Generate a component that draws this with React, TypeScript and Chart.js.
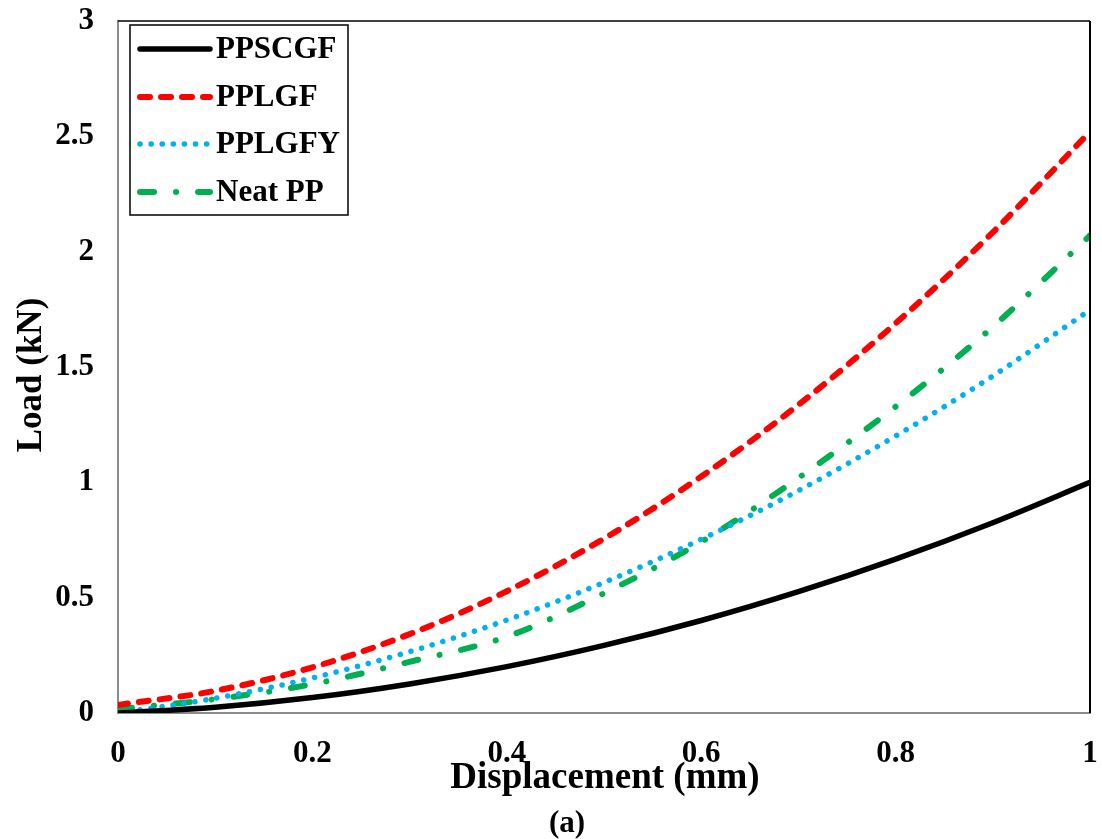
import React, { useEffect, useRef } from "react";
import { Chart, registerables } from "chart.js";

Chart.register(...registerables);

const FONT = '"Liberation Serif", "Times New Roman", serif';

const displacement = [0, 0.1, 0.2, 0.3, 0.4, 0.5, 0.6, 0.7, 0.8, 0.9, 1.0];
const ppscgf = [0, 0.025, 0.067, 0.126, 0.201, 0.293, 0.401, 0.526, 0.667, 0.825, 1.0];
const pplgf = [0.035, 0.096, 0.198, 0.342, 0.528, 0.756, 1.025, 1.336, 1.689, 2.084, 2.52];
const pplgfy = [0, 0.064, 0.152, 0.266, 0.403, 0.566, 0.753, 0.964, 1.201, 1.461, 1.747];
const neatPP = [0.017, 0.06, 0.125, 0.222, 0.331, 0.519, 0.742, 1.019, 1.328, 1.674, 2.07];

const seriesNames = ["PPSCGF", "PPLGF", "PPLGFY", "Neat PP"];
const xTickValues = [0, 0.2, 0.4, 0.6, 0.8, 1];
const yTickValues = [0, 0.5, 1, 1.5, 2, 2.5, 3];

const xTitle = "Displacement (mm)";
const yTitle = "Load (kN)";
const caption = "(a)";

const toPoints = (ys: number[]) => displacement.map((x, i) => ({ x, y: ys[i] }));

const legendPlugin = {
  id: "boxLegend",
  afterDraw(chart: any) {
    const ctx = chart.ctx as CanvasRenderingContext2D;
    const area = chart.chartArea;
    ctx.save();
    // frame top & right
    ctx.strokeStyle = "#000";
    ctx.lineWidth = 1.5;
    ctx.beginPath();
    ctx.moveTo(area.left, area.top);
    ctx.lineTo(area.right, area.top);
    ctx.stroke();
    ctx.lineWidth = 2;
    ctx.beginPath();
    ctx.moveTo(area.right, area.top);
    ctx.lineTo(area.right, area.bottom);
    ctx.stroke();

    // legend box
    const bx = area.left + 12;
    const by = area.top + 4;
    const bw = 218;
    const bh = 190;
    ctx.fillStyle = "#fff";
    ctx.fillRect(bx, by, bw, bh);
    ctx.lineWidth = 1.5;
    ctx.strokeStyle = "#000";
    ctx.setLineDash([]);
    ctx.strokeRect(bx, by, bw, bh);

    const rowYs = [24, 72, 119, 167];
    chart.data.datasets.forEach((ds: any, i: number) => {
      const y = by + rowYs[i];
      ctx.save();
      ctx.strokeStyle = ds.borderColor;
      ctx.lineWidth = ds.borderWidth;
      ctx.lineCap = ds.borderCapStyle || "butt";
      ctx.setLineDash(ds.borderDash || []);
      ctx.beginPath();
      ctx.moveTo(bx + 10, y);
      ctx.lineTo(bx + 80, y);
      ctx.stroke();
      ctx.restore();
      ctx.fillStyle = "#000";
      ctx.font = `bold 31px ${FONT}`;
      ctx.textAlign = "left";
      ctx.textBaseline = "middle";
      ctx.fillText(ds.label, bx + 86, y + 1);
    });

    // axis titles
    ctx.fillStyle = "#000";
    ctx.textAlign = "center";
    ctx.textBaseline = "middle";
    ctx.font = `bold 37px ${FONT}`;
    ctx.fillText(xTitle, 605, 778);
    ctx.font = `bold 31px ${FONT}`;
    ctx.fillText(caption, 567, 824);
    ctx.save();
    ctx.translate(32, 375);
    ctx.rotate(-Math.PI / 2);
    ctx.font = `bold 35px ${FONT}`;
    ctx.fillText(yTitle, 0, 0);
    ctx.restore();
    ctx.restore();
  },
};

export default function App() {
  const ref = useRef<HTMLCanvasElement | null>(null);

  useEffect(() => {
    document.body.style.margin = "0";
    const canvas = ref.current;
    if (!canvas) return;
    const chart = new Chart(canvas, {
      type: "line",
      data: {
        datasets: [
          {
            label: seriesNames[0],
            data: toPoints(ppscgf),
            borderColor: "#000000",
            borderWidth: 5.5,
            borderCapStyle: "round",
            pointRadius: 0,
            cubicInterpolationMode: "monotone",
          },
          {
            label: seriesNames[1],
            data: toPoints(pplgf),
            borderColor: "#ff0000",
            borderWidth: 6,
            borderDash: [10, 11],
            borderCapStyle: "round",
            pointRadius: 0,
            cubicInterpolationMode: "monotone",
          },
          {
            label: seriesNames[2],
            data: toPoints(pplgfy),
            borderColor: "#00b0f0",
            borderWidth: 5.5,
            borderDash: [0.1, 11],
            borderCapStyle: "round",
            pointRadius: 0,
            cubicInterpolationMode: "monotone",
          },
          {
            label: seriesNames[3],
            data: toPoints(neatPP),
            borderColor: "#00b050",
            borderWidth: 6,
            borderDash: [14, 22, 0.1, 22],
            borderCapStyle: "round",
            pointRadius: 0,
            cubicInterpolationMode: "monotone",
          },
        ] as any,
      },
      options: {
        animation: false,
        responsive: false,
        devicePixelRatio: 1,
        layout: { padding: { left: 0, right: 12, top: 21, bottom: 0 } },
        plugins: {
          legend: { display: false },
          tooltip: { enabled: false },
          title: { display: false },
        },
        scales: {
          x: {
            type: "linear",
            min: 0,
            max: 1,
            afterBuildTicks: (axis: any) => {
              axis.ticks = xTickValues.map((v) => ({ value: v }));
            },
            afterFit: (axis: any) => {
              axis.height = 126;
              axis.paddingLeft = 0;
              axis.paddingRight = 0;
              axis.paddingTop = 0;
              axis.paddingBottom = 0;
            },
            grid: { display: false, drawTicks: false },
            border: { display: true, color: "#8c8c8c", width: 2 },
            ticks: {
              color: "#000",
              font: { family: FONT, size: 31, weight: "bold" },
              padding: 22,
              maxRotation: 0,
              callback: (v: any) => String(v),
            },
          },
          y: {
            type: "linear",
            min: 0,
            max: 3,
            afterBuildTicks: (axis: any) => {
              axis.ticks = yTickValues.map((v) => ({ value: v }));
            },
            afterFit: (axis: any) => {
              axis.width = 118;
              axis.paddingLeft = 0;
              axis.paddingRight = 0;
              axis.paddingTop = 0;
              axis.paddingBottom = 0;
            },
            grid: { display: false, drawTicks: false },
            border: { display: true, color: "#8c8c8c", width: 2 },
            ticks: {
              color: "#000",
              font: { family: FONT, size: 31, weight: "bold" },
              padding: 24,
              callback: (v: any) => String(v),
            },
          },
        },
      } as any,
      plugins: [legendPlugin],
    });
    return () => chart.destroy();
  }, []);

  return (
    <div style={{ position: "absolute", left: 0, top: 0, width: 1102, height: 839, background: "#fff" }}>
      <canvas ref={ref} width={1102} height={839} style={{ width: 1102, height: 839, display: "block" }} />
    </div>
  );
}
